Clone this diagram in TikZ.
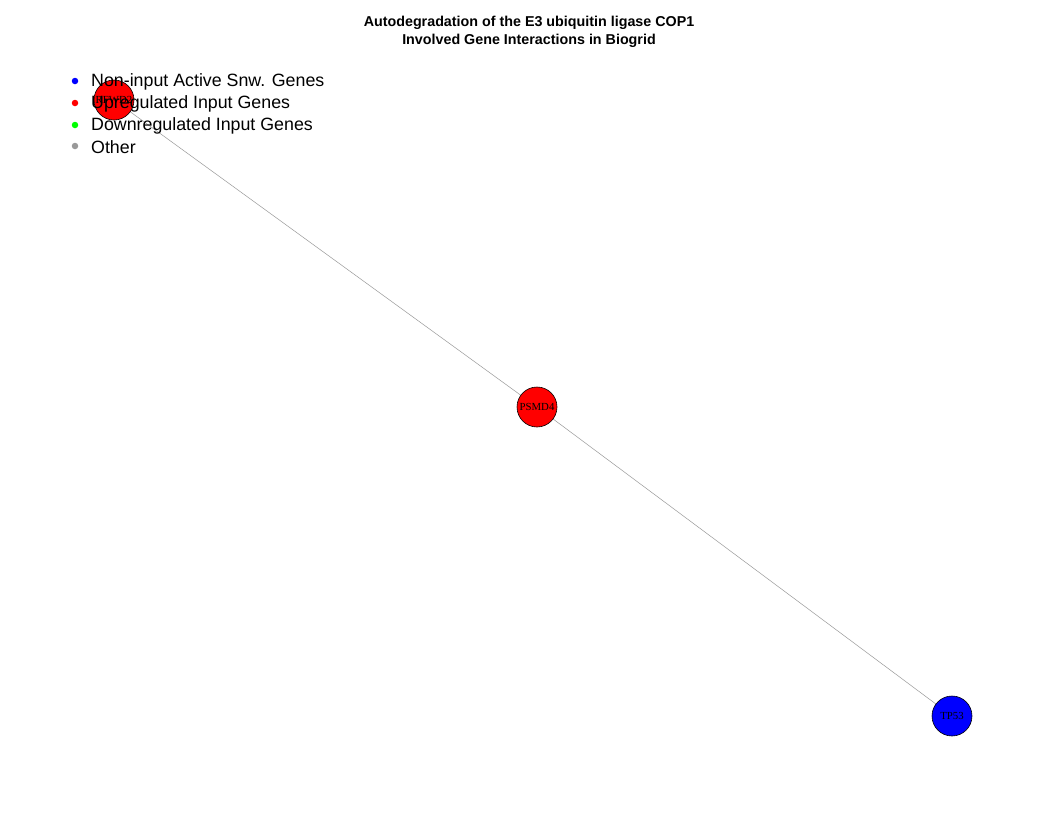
\documentclass[tikz,border=0pt]{standalone}
\usepackage{fontspec}
\setmainfont{Liberation Sans}
\newfontfamily\serifnode{Liberation Serif}
\begin{document}
\begin{tikzpicture}[x=1pt,y=-1pt,
  gene/.style={circle,draw=black,line width=0.6pt,minimum size=40pt,inner sep=0pt,font=\serifnode\fontsize{10.8}{11}\selectfont},
  edge/.style={draw=gray!80,line width=0.5pt},
  legdot/.style={circle,inner sep=0pt,minimum size=6.5pt},
  legtext/.style={anchor=west,inner sep=0pt,font=\fontsize{17.8}{18}\selectfont},
  titletext/.style={font=\bfseries\fontsize{14.3}{18}\selectfont,align=center}]
\useasboundingbox[fill=white] (0,0) rectangle (1039,831);
\node[titletext] (title) at (529,32) {Autodegradation of the E3 ubiquitin ligase COP1\\Involved Gene Interactions in Biogrid};
\coordinate (pa) at (114,100);
\coordinate (pb) at (537,407);
\coordinate (pc) at (952,716);
\draw[edge] (pa) -- (pb);
\draw[edge] (pb) -- (pc);
\node[gene,fill=red] (rfwd) at (pa) {RFWD2};
\node[gene,fill=red] (psmd) at (pb) {PSMD4};
\node[gene,fill=blue] (tp) at (pc) {TP53};
\node[legdot,fill=blue] (d1) at (75,81) {};
\node[legdot,fill=red] (d2) at (75,103) {};
\node[legdot,fill=green] (d3) at (75,125) {};
\node[legdot,fill=gray!80] (d4) at (75,146) {};
\node[legtext] (t1) at (91,82) {Non-input Active Snw. Genes};
\node[legtext] (t2) at (91,104) {Upregulated Input Genes};
\node[legtext] (t3) at (91,126) {Downregulated Input Genes};
\node[legtext] (t4) at (91,147) {Other};
\end{tikzpicture}
\end{document}
